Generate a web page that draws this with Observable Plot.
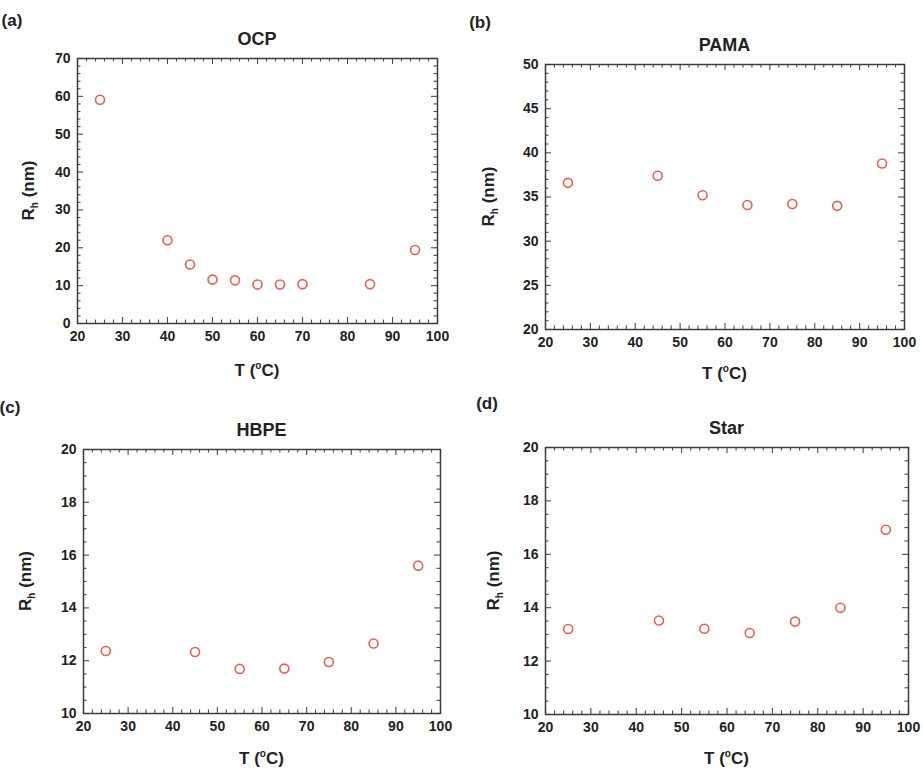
<!DOCTYPE html>
<html><head><meta charset="utf-8">
<script src="https://cdn.jsdelivr.net/npm/d3@7"></script>
<script src="https://cdn.jsdelivr.net/npm/@observablehq/plot@0.6"></script>
<style>
body{margin:0;background:#fff;}
#root{position:relative;width:923px;height:772px;overflow:hidden;font-family:"Liberation Sans",Arial,sans-serif;background:#fff;}
.panel{position:absolute;}
</style></head><body><div id="root"></div>
<script>
// ---- data ----
const ocpT  = [25, 40, 45, 50, 55, 60, 65, 70, 85, 95];
const ocpRh = [59.1, 22.0, 15.6, 11.6, 11.4, 10.3, 10.3, 10.4, 10.4, 19.4];
const pamaT  = [25, 45, 55, 65, 75, 85, 95];
const pamaRh = [36.6, 37.4, 35.2, 34.1, 34.2, 34.0, 38.8];
const hbpeT  = [25, 45, 55, 65, 75, 85, 95];
const hbpeRh = [12.37, 12.33, 11.69, 11.70, 11.95, 12.65, 15.6];
const starT  = [25, 45, 55, 65, 75, 85, 95];
const starRh = [13.2, 13.52, 13.21, 13.05, 13.48, 14.0, 16.92];

const xTicks = [20, 30, 40, 50, 60, 70, 80, 90, 100];
const yTicksA = [0, 10, 20, 30, 40, 50, 60, 70];
const yTicksB = [20, 25, 30, 35, 40, 45, 50];
const yTicksC = [10, 12, 14, 16, 18, 20];
const yTicksD = [10, 12, 14, 16, 18, 20];

// ---- layout ----
const panels = [
  {letter: "(a)", title: "OCP",  T: ocpT,  Rh: ocpRh,  yDomain: [0, 70],  yTicks: yTicksA, yMinor: 2,
   left: 0,   top: 0,   width: 461, height: 386, ml: 77, mr: 24, mt: 58, mb: 63, lx: 12, ly: 26, yl: 34, xl: 53},
  {letter: "(b)", title: "PAMA", T: pamaT, Rh: pamaRh, yDomain: [20, 50], yTicks: yTicksB, yMinor: 1,
   left: 461, top: 0,   width: 462, height: 386, ml: 84, mr: 19, mt: 64, mb: 57, lx: 19, ly: 28, yl: 33, xl: 50},
  {letter: "(c)", title: "HBPE", T: hbpeT, Rh: hbpeRh, yDomain: [10, 20], yTicks: yTicksC, yMinor: 0.5,
   left: 0,   top: 386, width: 461, height: 386, ml: 83, mr: 21, mt: 63, mb: 59, lx: 10, ly: 27, yl: 31, xl: 51},
  {letter: "(d)", title: "Star", T: starT, Rh: starRh, yDomain: [10, 20], yTicks: yTicksD, yMinor: 0.5,
   left: 461, top: 386, width: 462, height: 386, ml: 84, mr: 15, mt: 61, mb: 58, lx: 26, ly: 23, yl: 38, xl: 50}
];

const FONT = '"Liberation Sans", Arial, sans-serif';
const TICK = "#4a4a4a";
const MAJOR = 6, MINOR = 3.5;
const root = document.getElementById("root");

function minorOf(majors, step) {
  const out = [];
  for (let i = 0; i < majors.length - 1; i++) {
    for (let v = majors[i] + step; v < majors[i + 1] - 1e-9; v += step) out.push(+v.toFixed(4));
  }
  return out;
}

for (const p of panels) {
  const data = p.T.map((t, i) => ({T: t, Rh: p.Rh[i]}));
  const xMinor = minorOf(xTicks, 2);
  const yMinor = minorOf(p.yTicks, p.yMinor);
  const xd = [20, 100], yd = p.yDomain;
  // pixel length -> data units, so that tick marks point inward with a fixed pixel length
  const fw = p.width - p.ml - p.mr, fh = p.height - p.mt - p.mb;
  const ux = (px) => px * (xd[1] - xd[0]) / fw;
  const uy = (px) => px * (yd[1] - yd[0]) / fh;
  const tickStyle = {stroke: TICK, strokeWidth: 1.1};
  const xTickRules = (vals, len) => [
    Plot.ruleX(vals, {x: d => d, y1: yd[0], y2: yd[0] + uy(len), ...tickStyle}),
    Plot.ruleX(vals, {x: d => d, y1: yd[1], y2: yd[1] - uy(len), ...tickStyle})
  ];
  const yTickRules = (vals, len) => [
    Plot.ruleY(vals, {y: d => d, x1: xd[0], x2: xd[0] + ux(len), ...tickStyle}),
    Plot.ruleY(vals, {y: d => d, x1: xd[1], x2: xd[1] - ux(len), ...tickStyle})
  ];
  const svg = Plot.plot({
    width: p.width, height: p.height,
    marginLeft: p.ml, marginRight: p.mr, marginTop: p.mt, marginBottom: p.mb,
    x: {domain: xd},
    y: {domain: yd},
    style: {fontFamily: FONT, fontSize: "14px", fontWeight: "bold", color: "#222", background: "transparent", overflow: "visible"},
    marks: [
      ...xTickRules(xMinor, MINOR),
      ...xTickRules(xTicks, MAJOR),
      ...yTickRules(yMinor, MINOR),
      ...yTickRules(p.yTicks, MAJOR),
      Plot.axisX(xTicks, {anchor: "bottom", tickSize: 0, tickPadding: 8, label: null, fontSize: 14, fontWeight: "bold", fill: "#222"}),
      Plot.axisY(p.yTicks, {anchor: "left", tickSize: 0, tickPadding: 7, label: null, fontSize: 14, fontWeight: "bold", fill: "#222"}),
      Plot.frame({stroke: "#3c3c3c", strokeWidth: 1.5}),
      Plot.dot(data, {x: "T", y: "Rh", r: 4.5, stroke: "#e8604c", strokeWidth: 1.6, fill: "none"})
    ]
  });
  const div = document.createElement("div");
  div.className = "panel";
  div.style.left = p.left + "px";
  div.style.top = p.top + "px";
  div.appendChild(svg);
  root.appendChild(div);

  const s = d3.select(svg);
  const fx0 = p.ml, fx1 = p.width - p.mr, fy0 = p.mt, fy1 = p.height - p.mb;
  const g = s.append("g").attr("fill", "#222").attr("font-family", FONT).attr("font-weight", "bold");
  g.append("text").attr("x", p.lx).attr("y", p.ly).attr("font-size", 17).text(p.letter);
  g.append("text").attr("x", (fx0 + fx1) / 2).attr("y", fy0 - 13).attr("text-anchor", "middle")
    .attr("font-size", 18).text(p.title);
  const xt = g.append("text").attr("x", (fx0 + fx1) / 2).attr("y", fy1 + p.xl).attr("text-anchor", "middle").attr("font-size", 17);
  xt.append("tspan").text("T (");
  xt.append("tspan").attr("font-size", 10).attr("dy", -7).text("o");
  xt.append("tspan").attr("dy", 7).text("C)");
  const yt = g.append("text").attr("transform", `translate(${p.yl},${(fy0 + fy1) / 2}) rotate(-90)`)
    .attr("text-anchor", "middle").attr("font-size", 17);
  yt.append("tspan").text("R");
  yt.append("tspan").attr("font-size", 10).attr("dy", 4).text("h");
  yt.append("tspan").attr("dy", -4).text(" (nm)");
}
</script>
</body></html>
